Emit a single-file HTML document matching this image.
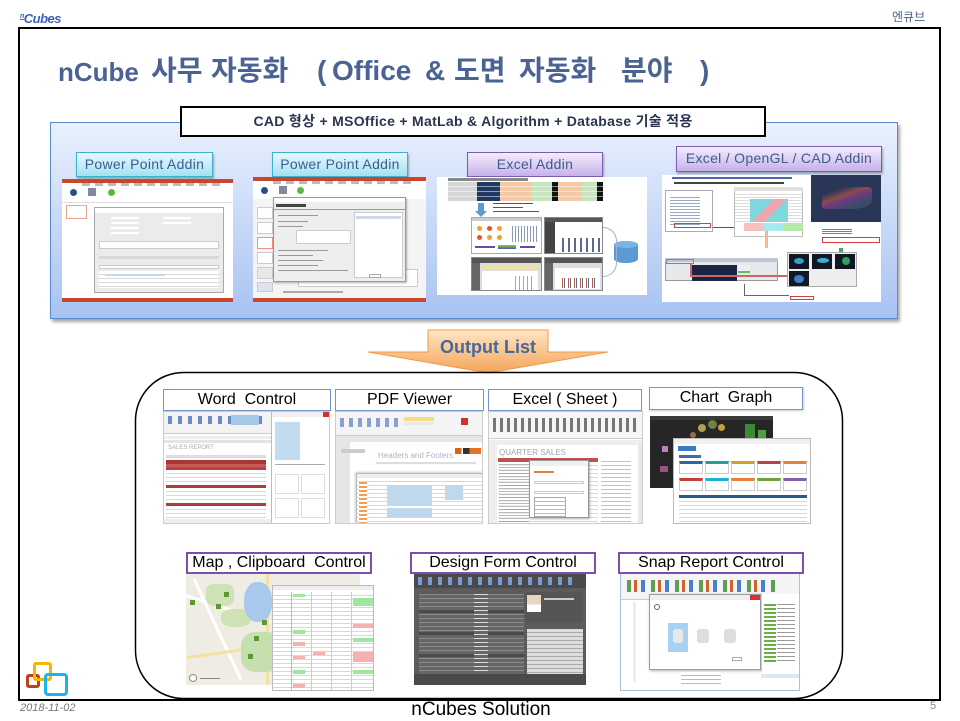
<!DOCTYPE html>
<html><head><meta charset="utf-8">
<style>
*{margin:0;padding:0;box-sizing:border-box}
body{width:960px;height:720px;background:#fff;position:relative;overflow:hidden;font-family:"Liberation Sans","Noto Sans CJK KR",sans-serif}
.a{position:absolute}
.ss{overflow:hidden}
.t{position:absolute;top:0;white-space:nowrap}
.lc{position:absolute;background:linear-gradient(#e6f9fe,#a4e2f3);border:1px solid #3cb2cc;box-shadow:1px 2px 2px rgba(0,0,0,.3);color:#3d5d8c;font-size:14px;text-align:center;line-height:23px;letter-spacing:.3px}
.lp{position:absolute;background:linear-gradient(#f3ecfd,#c7b1ea);border:1px solid #7c5cb0;box-shadow:1px 2px 2px rgba(0,0,0,.3);color:#3d5d8c;font-size:14px;text-align:center;line-height:23px;letter-spacing:.3px}
.ob{position:absolute;background:#fff;border:1.5px solid #7594cf;color:#000;font-size:16px;text-align:center;line-height:19px}
.op{position:absolute;background:#fff;border:2px solid #7b4fb0;color:#000;font-size:16px;text-align:center;line-height:18px}
.rows{background:repeating-linear-gradient(#fff 0 3px,#d8d8d8 3px 4px)}
</style></head><body>

<!-- header -->
<div class="a" style="left:20px;top:9px;font-size:13px;font-weight:bold;font-style:italic;color:#3a62b8;line-height:16px;letter-spacing:-.5px"><span style="font-size:7px;text-decoration:underline;vertical-align:5px">n</span>Cubes</div>
<div class="a" style="left:892px;top:10px;font-size:12px;color:#4d5f86;line-height:14px">엔큐브</div>

<!-- frame -->
<div class="a" style="left:18px;top:27px;width:923px;height:674px;border:2px solid #000"></div>

<!-- title -->
<div class="a" style="left:0;top:56px;width:960px;height:30px;font-size:28px;font-weight:bold;color:#4b6392;line-height:30px">
  <span class="t" style="left:58px;font-size:26px;top:1px">nCube</span>
  <span class="t" style="left:151px">사무</span>
  <span class="t" style="left:211px">자동화</span>
  <span class="t" style="left:317px">(</span>
  <span class="t" style="left:332px">Office</span>
  <span class="t" style="left:425px">&amp;</span>
  <span class="t" style="left:454px">도면</span>
  <span class="t" style="left:519px">자동화</span>
  <span class="t" style="left:621px">분야</span>
  <span class="t" style="left:700px">)</span>
</div>

<!-- blue panel -->
<div class="a" style="left:50px;top:122px;width:848px;height:197px;background:linear-gradient(#e9f0fd,#a8c3f2);border:1px solid #5a8ad0;box-shadow:2px 3px 3px rgba(0,0,0,.35)"></div>

<!-- tech box -->
<div class="a" style="left:180px;top:106px;width:586px;height:31px;background:#fff;border:2px solid #000;text-align:center;font-size:14px;font-weight:bold;color:#29344f;line-height:27px;white-space:nowrap;letter-spacing:.3px">CAD 형상 + MSOffice + MatLab &amp; Algorithm + Database 기술 적용</div>

<!-- panel labels -->
<div class="lc" style="left:76px;top:152px;width:137px;height:25px">Power Point Addin</div>
<div class="lc" style="left:272px;top:152px;width:136px;height:25px">Power Point Addin</div>
<div class="lp" style="left:467px;top:152px;width:136px;height:25px">Excel Addin</div>
<div class="lp" style="left:676px;top:146px;width:206px;height:26px">Excel / OpenGL / CAD Addin</div>

<!-- PP1 screenshot -->
<div class="a ss" style="left:62px;top:179px;width:171px;height:123px;background:#fff">
  <div class="a" style="left:0;top:0;width:171px;height:4px;background:#c8472c"></div>
  <div class="a" style="left:20px;top:4px;width:140px;height:3px;background:repeating-linear-gradient(90deg,#bbb 0 8px,#fff 8px 13px)"></div>
  <div class="a" style="left:8px;top:10px;width:7px;height:7px;border-radius:50%;background:#2b4f8a"></div>
  <div class="a" style="left:26px;top:9px;width:8px;height:8px;background:#7d8aa0"></div>
  <div class="a" style="left:46px;top:10px;width:7px;height:7px;border-radius:50%;background:#5cb83a"></div>
  <div class="a" style="left:0;top:23px;width:171px;height:1px;background:#ddd"></div>
  <div class="a" style="left:4px;top:26px;width:21px;height:14px;border:1px solid #f0a090"></div>
  <div class="a" style="left:32px;top:28px;width:130px;height:86px;background:#ebebeb;border:1px solid #a8a8a8">
    <div class="a" style="left:0;top:0;width:128px;height:5px;background:#fff"></div>
    <div class="a" style="left:16px;top:9px;width:28px;height:2px;background:#fff"></div>
    <div class="a" style="left:68px;top:9px;width:28px;height:2px;background:#fff"></div>
    <div class="a" style="left:16px;top:14px;width:28px;height:2px;background:#fff"></div>
    <div class="a" style="left:68px;top:14px;width:28px;height:2px;background:#fff"></div>
    <div class="a" style="left:16px;top:19px;width:28px;height:2px;background:#fff"></div>
    <div class="a" style="left:16px;top:24px;width:28px;height:2px;background:#fff"></div>
    <div class="a" style="left:4px;top:33px;width:120px;height:8px;background:#fff;border:1px solid #ccc"></div>
    <div class="a" style="left:4px;top:48px;width:120px;height:3px;background:#d8d8d8"></div>
    <div class="a" style="left:4px;top:57px;width:120px;height:4px;background:#fff;border:1px solid #ccc"></div>
    <div class="a rows" style="left:4px;top:63px;width:120px;height:17px"></div>
    <div class="a" style="left:10px;top:66px;width:60px;height:2px;background:#c8d8ee"></div>
  </div>
  <div class="a" style="left:0;top:119px;width:171px;height:4px;background:#c8472c"></div>
</div>

<!-- PP2 screenshot -->
<div class="a ss" style="left:253px;top:177px;width:173px;height:125px;background:#f4f4f4">
  <div class="a" style="left:0;top:0;width:173px;height:4px;background:#c8472c"></div>
  <div class="a" style="left:0;top:4px;width:173px;height:18px;background:#fff"></div>
  <div class="a" style="left:20px;top:4px;width:140px;height:3px;background:repeating-linear-gradient(90deg,#bbb 0 8px,#fff 8px 13px)"></div>
  <div class="a" style="left:8px;top:10px;width:7px;height:7px;border-radius:50%;background:#2b4f8a"></div>
  <div class="a" style="left:26px;top:9px;width:8px;height:8px;background:#7d8aa0"></div>
  <div class="a" style="left:44px;top:10px;width:7px;height:7px;border-radius:50%;background:#5cb83a"></div>
  <div class="a" style="left:4px;top:30px;width:16px;height:12px;background:#fff;border:1px solid #ccc"></div>
  <div class="a" style="left:4px;top:45px;width:16px;height:12px;background:#fff;border:1px solid #ccc"></div>
  <div class="a" style="left:4px;top:60px;width:16px;height:12px;background:#fff;border:1px solid #f09080"></div>
  <div class="a" style="left:4px;top:75px;width:16px;height:12px;background:#fff;border:1px solid #ccc"></div>
  <div class="a" style="left:4px;top:90px;width:16px;height:12px;background:#e8e8e8;border:1px solid #ccc"></div>
  <div class="a" style="left:4px;top:105px;width:16px;height:10px;background:#dde4ee;border:1px solid #ccc"></div>
  <div class="a" style="left:45px;top:92px;width:120px;height:18px;background:#fff;border:1px solid #ccc"></div>
  <div class="a" style="left:30px;top:114px;width:60px;height:2px;background:#aaa"></div>
  <div class="a" style="left:20px;top:20px;width:133px;height:85px;background:#eeeeee;border:1px solid #999;box-shadow:1px 1px 2px rgba(0,0,0,.3)">
    <div class="a" style="left:0;top:0;width:131px;height:4px;background:#fff"></div>
    <div class="a" style="left:2px;top:6px;width:30px;height:3px;background:#444"></div>
    <div class="a" style="left:0;top:11px;width:131px;height:1px;background:#999"></div>
    <div class="a" style="left:80px;top:14px;width:49px;height:66px;background:#fff;border:1px solid #ccc"></div>
    <div class="a" style="left:82px;top:18px;width:45px;height:3px;background:#cfd8e6"></div>
    <div class="a" style="left:4px;top:17px;width:40px;height:1px;background:#999"></div>
    <div class="a" style="left:4px;top:23px;width:30px;height:1px;background:#999"></div>
    <div class="a" style="left:4px;top:28px;width:25px;height:1px;background:#999"></div>
    <div class="a" style="left:22px;top:32px;width:55px;height:14px;background:#fff;border:1px solid #ccc"></div>
    <div class="a" style="left:4px;top:52px;width:50px;height:1px;background:#999"></div>
    <div class="a" style="left:4px;top:57px;width:35px;height:1px;background:#999"></div>
    <div class="a" style="left:4px;top:62px;width:45px;height:1px;background:#999"></div>
    <div class="a" style="left:4px;top:67px;width:40px;height:1px;background:#999"></div>
    <div class="a" style="left:4px;top:72px;width:70px;height:1px;background:#999"></div>
    <div class="a" style="left:95px;top:76px;width:12px;height:4px;background:#fff;border:1px solid #aaa"></div>
  </div>
  <div class="a" style="left:0;top:121px;width:173px;height:4px;background:#c8472c"></div>
</div>

<!-- Excel addin screenshot -->
<div class="a ss" style="left:437px;top:177px;width:210px;height:118px;background:#fff">
  <div class="a" style="left:11px;top:1px;width:80px;height:3px;background:#888"></div>
  <div class="a" style="left:11px;top:5px;width:155px;height:19px;background:linear-gradient(90deg,#d6d6d6 0 29px,#1f3864 29px 52px,#f6c9a4 52px 84px,#c6e6c0 84px 104px,#111 104px 110px,#f6c9a4 110px 134px,#c6e6c0 134px 149px,#111 149px 155px)"></div>
  <div class="a" style="left:11px;top:5px;width:155px;height:19px;background:repeating-linear-gradient(#0000 0 4px,rgba(255,255,255,.5) 4px 5px)"></div>
  <div class="a" style="left:41px;top:26px;width:6px;height:8px;background:#5b9bd5"></div>
  <div class="a" style="left:38px;top:34px;width:0;height:0;border-left:6px solid transparent;border-right:6px solid transparent;border-top:6px solid #5b9bd5"></div>
  <div class="a" style="left:56px;top:26px;width:40px;height:1px;background:#555"></div>
  <div class="a" style="left:56px;top:30px;width:30px;height:1px;background:#555"></div>
  <div class="a" style="left:56px;top:34px;width:46px;height:1px;background:#555"></div>
  <div class="a" style="left:34px;top:40px;width:71px;height:37px;background:#fff;border:1px solid #aaa">
    <div class="a" style="left:0;top:0;width:69px;height:3px;background:#ccc"></div>
    <div class="a" style="left:5px;top:8px;width:5px;height:5px;border-radius:50%;background:#f2a030"></div>
    <div class="a" style="left:15px;top:8px;width:5px;height:5px;border-radius:50%;background:#e8502a"></div>
    <div class="a" style="left:25px;top:8px;width:5px;height:5px;border-radius:50%;background:#f2a030"></div>
    <div class="a" style="left:5px;top:17px;width:5px;height:5px;border-radius:50%;background:#e8502a"></div>
    <div class="a" style="left:15px;top:17px;width:5px;height:5px;border-radius:50%;background:#f2a030"></div>
    <div class="a" style="left:25px;top:17px;width:5px;height:5px;border-radius:50%;background:#f2a030"></div>
    <div class="a" style="left:38px;top:8px;width:28px;height:16px;background:repeating-linear-gradient(90deg,#fff 0 2px,#8899bb 2px 3px)"></div>
    <div class="a" style="left:3px;top:28px;width:20px;height:2px;background:#6a4aa0"></div>
    <div class="a" style="left:26px;top:27px;width:18px;height:4px;background:linear-gradient(#e8a040,#60a050,#4060c0)"></div>
    <div class="a" style="left:48px;top:28px;width:15px;height:2px;background:#6a4aa0"></div>
  </div>
  <div class="a" style="left:107px;top:40px;width:59px;height:37px;background:#fff;border:1px solid #888">
    <div class="a" style="left:0;top:0;width:57px;height:4px;background:#555"></div>
    <div class="a" style="left:0;top:4px;width:10px;height:31px;background:#444"></div>
    <div class="a" style="left:13px;top:20px;width:42px;height:14px;background:repeating-linear-gradient(90deg,#fff 0 4px,#5a6a90 4px 6px)"></div>
  </div>
  <div class="a" style="left:34px;top:80px;width:71px;height:34px;background:#ddd;border:1px solid #888">
    <div class="a" style="left:0;top:0;width:69px;height:5px;background:#555"></div>
    <div class="a" style="left:0;top:5px;width:8px;height:27px;background:#666"></div>
    <div class="a" style="left:10px;top:8px;width:56px;height:3px;background:#f0e0a0"></div>
    <div class="a" style="left:10px;top:13px;width:56px;height:19px;background:#fff"></div>
    <div class="a" style="left:40px;top:18px;width:20px;height:14px;background:repeating-linear-gradient(90deg,#fff 0 3px,#9aa8c8 3px 4px)"></div>
  </div>
  <div class="a" style="left:107px;top:80px;width:59px;height:34px;background:#ddd;border:1px solid #888">
    <div class="a" style="left:0;top:0;width:57px;height:5px;background:#555"></div>
    <div class="a" style="left:0;top:5px;width:8px;height:27px;background:#666"></div>
    <div class="a" style="left:10px;top:10px;width:45px;height:21px;background:#fff"></div>
    <div class="a" style="left:14px;top:20px;width:38px;height:10px;background:repeating-linear-gradient(90deg,#fff 0 3px,#b06040 3px 4px,#fff 4px 5px,#5a6a90 5px 6px)"></div>
  </div>
  <div class="a" style="left:177px;top:64px;width:24px;height:22px;background:#5b9bd5;border-radius:12px/4px"></div>
  <div class="a" style="left:177px;top:64px;width:24px;height:7px;background:#7db3e4;border-radius:50%"></div>
  <div class="a" style="left:166px;top:50px;width:14px;height:50px;border:1px solid #9ab4d8;border-left:none;border-radius:0 20px 20px 0"></div>
</div>

<!-- CAD screenshot -->
<div class="a ss" style="left:662px;top:175px;width:219px;height:127px;background:#fff">
  <div class="a" style="left:10px;top:2px;width:120px;height:2px;background:#4a6ab0"></div>
  <div class="a" style="left:12px;top:7px;width:110px;height:2px;background:#444"></div>
  <div class="a" style="left:3px;top:15px;width:48px;height:42px;background:#fff;border:1px solid #aab"></div>
  <div class="a" style="left:8px;top:20px;width:30px;height:30px;background:repeating-linear-gradient(#fff 0 2px,#98a8c0 2px 3px)"></div>
  <div class="a" style="left:12px;top:48px;width:37px;height:5px;border:1px solid #d04040"></div>
  <div class="a" style="left:51px;top:52px;width:21px;height:1px;background:#555"></div>
  <div class="a" style="left:72px;top:12px;width:69px;height:50px;background:#fff;border:1px solid #bbb"></div>
  <div class="a" style="left:72px;top:12px;width:69px;height:4px;background:#e0e0e0"></div>
  <div class="a" style="left:73px;top:17px;width:67px;height:30px;background:repeating-linear-gradient(#fff 0 2px,#ddd 2px 3px)"></div>
  <div class="a" style="left:88px;top:24px;width:38px;height:23px;background:linear-gradient(135deg,#7fd8e0 0 40%,#f0a4ac 40% 60%,#7fd8e0 60%)"></div>
  <div class="a" style="left:82px;top:48px;width:59px;height:8px;background:linear-gradient(90deg,#f6c0c0 0 33%,#a8e8f0 33% 66%,#b8e8a8 66%)"></div>
  <div class="a" style="left:103px;top:56px;width:3px;height:17px;background:#f4b890"></div>
  <div class="a" style="left:149px;top:0;width:70px;height:47px;background:#2a3658"></div>
  <div class="a" style="left:160px;top:12px;width:50px;height:22px;background:linear-gradient(160deg,#2a3658 20%,#8a4a50 40%,#6a3a80 55%,#3a4a6a 75%);border-radius:40% 10%"></div>
  <div class="a" style="left:150px;top:50px;width:69px;height:20px;background:#fff"></div>
  <div class="a" style="left:160px;top:53px;width:30px;height:6px;background:repeating-linear-gradient(#fff 0 1px,#6a80b0 1px 2px)"></div>
  <div class="a" style="left:160px;top:62px;width:58px;height:6px;border:1px solid #d04040"></div>
  <div class="a" style="left:177px;top:73px;width:4px;height:14px;background:#3cb050"></div>
  <div class="a" style="left:3px;top:83px;width:113px;height:23px;background:#e6e8ec;border:1px solid #999"></div>
  <div class="a" style="left:3px;top:83px;width:113px;height:4px;background:#bcc6d6"></div>
  <div class="a" style="left:4px;top:84px;width:28px;height:5px;border:1px solid #5b8bd0"></div>
  <div class="a" style="left:30px;top:90px;width:45px;height:16px;background:#1c2444"></div>
  <div class="a" style="left:76px;top:90px;width:12px;height:8px;background:#f0f0f0;border-bottom:2px solid #60c060"></div>
  <div class="a" style="left:28px;top:88px;width:2px;height:14px;background:#c86868"></div>
  <div class="a" style="left:28px;top:100px;width:98px;height:2px;background:#c86868"></div>
  <div class="a" style="left:125px;top:77px;width:70px;height:35px;background:#eee;border:1px solid #aaa"></div>
  <div class="a" style="left:127px;top:79px;width:20px;height:15px;background:#101828"></div>
  <div class="a" style="left:150px;top:79px;width:20px;height:15px;background:#101828"></div>
  <div class="a" style="left:173px;top:79px;width:20px;height:15px;background:#101828"></div>
  <div class="a" style="left:127px;top:96px;width:20px;height:15px;background:#101828"></div>
  <div class="a" style="left:132px;top:83px;width:10px;height:6px;background:#3aa0c0;border-radius:50%"></div>
  <div class="a" style="left:155px;top:83px;width:12px;height:5px;background:#3ab0d0;border-radius:50%"></div>
  <div class="a" style="left:180px;top:82px;width:8px;height:8px;background:#30a060;border-radius:50%"></div>
  <div class="a" style="left:132px;top:100px;width:10px;height:8px;background:#3a80c0;border-radius:50%"></div>
  <div class="a" style="left:82px;top:109px;width:1px;height:12px;background:#666"></div>
  <div class="a" style="left:82px;top:120px;width:45px;height:1px;background:#666"></div>
  <div class="a" style="left:128px;top:121px;width:24px;height:4px;border:1px solid #d04040"></div>
</div>

<!-- Output list arrow + rounded container -->
<svg class="a" style="left:0;top:0" width="960" height="720">
  <defs>
    <linearGradient id="og" x1="0" y1="0" x2="0" y2="1">
      <stop offset="0" stop-color="#fee6c6"/>
      <stop offset="1" stop-color="#f4a458"/>
    </linearGradient>
  </defs>
  <polygon points="428,330 548,330 548,352 608,352 488,373 368,352 428,352" fill="url(#og)" stroke="#f09a48" stroke-width="1"/>
  <text x="488" y="353" text-anchor="middle" font-family="Liberation Sans, sans-serif" font-size="18" font-weight="bold" fill="#46679a">Output List</text>
  <rect x="135.5" y="372.5" width="707" height="326" rx="48" ry="48" fill="none" stroke="#000" stroke-width="1.5"/>
</svg>

<!-- Row 1 screenshots -->
<!-- Word -->
<div class="a ss" style="left:163px;top:411px;width:167px;height:113px;background:#fff;border:1px solid #ccc">
  <div class="a" style="left:0;top:0;width:107px;height:21px;background:#f3f3f3"></div>
  <div class="a" style="left:4px;top:4px;width:100px;height:8px;background:repeating-linear-gradient(90deg,#6a8ac8 0 4px,#f3f3f3 4px 10px)"></div>
  <div class="a" style="left:67px;top:3px;width:28px;height:10px;background:#a8c8e8"></div>
  <div class="a" style="left:0;top:21px;width:107px;height:1px;background:#ccc"></div>
  <div class="a" style="left:0;top:24px;width:107px;height:3px;background:#eee"></div>
  <div class="a" style="left:0;top:28px;width:107px;height:3px;background:#e4e4e4"></div>
  <div class="a" style="left:4px;top:33px;font-size:6px;color:#aaa;line-height:7px;white-space:nowrap">SALES REPORT</div>
  <div class="a" style="left:2px;top:43px;width:100px;height:3px;background:#ddd"></div>
  <div class="a" style="left:2px;top:48px;width:100px;height:4px;background:#a83634"></div>
  <div class="a" style="left:2px;top:52px;width:100px;height:3px;background:#c55a56"></div>
  <div class="a" style="left:2px;top:55px;width:100px;height:3px;background:#c04040"></div>
  <div class="a rows" style="left:2px;top:58px;width:100px;height:15px"></div>
  <div class="a" style="left:2px;top:73px;width:100px;height:3px;background:#b03a38"></div>
  <div class="a rows" style="left:2px;top:76px;width:100px;height:15px"></div>
  <div class="a" style="left:2px;top:91px;width:100px;height:3px;background:#b03a38"></div>
  <div class="a rows" style="left:2px;top:94px;width:100px;height:12px"></div>
  <div class="a" style="left:0;top:107px;width:107px;height:5px;background:#eee"></div>
  <div class="a" style="left:107px;top:0;width:58px;height:111px;background:#fff;border-left:1px solid #bbb"></div>
  <div class="a" style="left:108px;top:0;width:57px;height:5px;background:#f0f0f0"></div>
  <div class="a" style="left:159px;top:0;width:6px;height:5px;background:#d83030"></div>
  <div class="a" style="left:111px;top:10px;width:25px;height:38px;background:#c3dbef"></div>
  <div class="a" style="left:111px;top:52px;width:50px;height:1px;background:#aaa"></div>
  <div class="a" style="left:111px;top:62px;width:24px;height:20px;border:1px solid #ddd"></div>
  <div class="a" style="left:137px;top:62px;width:24px;height:20px;border:1px solid #ddd"></div>
  <div class="a" style="left:111px;top:86px;width:24px;height:20px;border:1px solid #ddd"></div>
  <div class="a" style="left:137px;top:86px;width:24px;height:20px;border:1px solid #ddd"></div>
</div>

<!-- PDF -->
<div class="a ss" style="left:335px;top:411px;width:148px;height:113px;background:#e6e6e6;border:1px solid #ccc">
  <div class="a" style="left:0;top:0;width:148px;height:24px;background:#f4f4f4;border-bottom:1px solid #ccc"></div>
  <div class="a" style="left:4px;top:6px;width:60px;height:9px;background:repeating-linear-gradient(90deg,#8aa0c8 0 4px,#f4f4f4 4px 9px)"></div>
  <div class="a" style="left:68px;top:5px;width:30px;height:4px;background:#f6dc84"></div>
  <div class="a" style="left:68px;top:10px;width:30px;height:3px;background:#e8e8e8"></div>
  <div class="a" style="left:125px;top:6px;width:7px;height:7px;background:#d03030"></div>
  <div class="a" style="left:14px;top:30px;width:134px;height:83px;background:#fff"></div>
  <div class="a" style="left:5px;top:37px;width:24px;height:4px;background:#ccc"></div>
  <div class="a" style="left:42px;top:39px;font-size:8px;color:#aab6c8;line-height:9px;white-space:nowrap">Headers and Footers</div>
  <div class="a" style="left:119px;top:36px;width:26px;height:6px;background:linear-gradient(90deg,#e06010 0 25%,#fff 25% 30%,#333 30% 55%,#e87020 55%)"></div>
  <div class="a" style="left:40px;top:50px;width:100px;height:2px;background:#ddd"></div>
  <div class="a" style="left:20px;top:61px;width:128px;height:52px;background:#fff;border:1px solid #bbb;box-shadow:-1px -1px 2px rgba(0,0,0,.2)">
    <div class="a" style="left:0;top:0;width:128px;height:4px;background:#eee"></div>
    <div class="a rows" style="left:0;top:4px;width:128px;height:48px"></div>
    <div class="a" style="left:30px;top:11px;width:45px;height:20px;background:#c0d8ee"></div>
    <div class="a" style="left:88px;top:11px;width:18px;height:15px;background:#c0d8ee"></div>
    <div class="a" style="left:30px;top:34px;width:45px;height:9px;background:#c0d8ee"></div>
    <div class="a" style="left:2px;top:8px;width:8px;height:42px;background:repeating-linear-gradient(#f0a050 0 2px,#fff 2px 4px)"></div>
  </div>
</div>

<!-- Excel sheet -->
<div class="a ss" style="left:488px;top:411px;width:155px;height:113px;background:#fff;border:1px solid #ccc">
  <div class="a" style="left:0;top:0;width:155px;height:27px;background:#f6f6f6;border-bottom:1px solid #ccc"></div>
  <div class="a" style="left:4px;top:6px;width:145px;height:14px;background:repeating-linear-gradient(90deg,#777 0 3px,#f6f6f6 3px 7px)"></div>
  <div class="a" style="left:0;top:28px;width:155px;height:5px;background:#eee"></div>
  <div class="a" style="left:0;top:33px;width:8px;height:80px;background:#eee"></div>
  <div class="a" style="left:10px;top:36px;font-size:8px;color:#9aa;line-height:9px;white-space:nowrap">QUARTER SALES</div>
  <div class="a" style="left:9px;top:46px;width:100px;height:4px;background:#c0504d"></div>
  <div class="a rows" style="left:9px;top:50px;width:100px;height:62px"></div>
  <div class="a" style="left:10px;top:50px;width:30px;height:60px;background:repeating-linear-gradient(#fff 0 2px,#777 2px 3px);opacity:.5"></div>
  <div class="a" style="left:112px;top:46px;width:30px;height:64px;background:repeating-linear-gradient(#fff 0 3px,#888 3px 4px);opacity:.5"></div>
  <div class="a" style="left:40px;top:48px;width:60px;height:58px;background:#fff;border:1px solid #999;box-shadow:1px 1px 2px rgba(0,0,0,.3)">
    <div class="a" style="left:0;top:0;width:58px;height:5px;background:#f0f0f0"></div>
    <div class="a" style="left:4px;top:10px;width:20px;height:2px;background:#e08040"></div>
    <div class="a" style="left:4px;top:20px;width:50px;height:3px;border:1px solid #ccc"></div>
    <div class="a" style="left:4px;top:30px;width:50px;height:3px;border:1px solid #ccc"></div>
    <div class="a" style="left:4px;top:36px;width:32px;height:20px;background:repeating-linear-gradient(#fff 0 3px,#bbb 3px 4px);border:1px solid #aaa"></div>
  </div>
  <div class="a" style="left:149px;top:33px;width:5px;height:80px;background:#e8e8e8"></div>
</div>

<!-- Chart -->
<div class="a ss" style="left:650px;top:416px;width:123px;height:72px;background:#262626">
  <div class="a" style="left:0;top:0;width:123px;height:4px;background:#3a3a3a"></div>
  <div class="a" style="left:48px;top:8px;width:8px;height:8px;border-radius:50%;background:#b0a050"></div>
  <div class="a" style="left:58px;top:4px;width:9px;height:9px;border-radius:50%;background:#708048"></div>
  <div class="a" style="left:68px;top:8px;width:7px;height:7px;border-radius:50%;background:#c0a040"></div>
  <div class="a" style="left:40px;top:16px;width:6px;height:6px;border-radius:50%;background:#907050"></div>
  <div class="a" style="left:95px;top:8px;width:10px;height:14px;background:#3a8a3a"></div>
  <div class="a" style="left:108px;top:14px;width:8px;height:10px;background:#50a040"></div>
  <div class="a" style="left:12px;top:30px;width:6px;height:6px;background:#c080c0"></div>
  <div class="a" style="left:10px;top:50px;width:8px;height:6px;background:#a05080"></div>
</div>
<div class="a ss" style="left:673px;top:438px;width:138px;height:86px;background:#fff;border:1px solid #bbb">
  <div class="a" style="left:0;top:0;width:138px;height:5px;background:#f0f0f0"></div>
  <div class="a" style="left:4px;top:7px;width:18px;height:5px;background:#3a7ac8"></div>
  <div class="a" style="left:5px;top:16px;width:22px;height:3px;background:#3a6ab8"></div>
  <div class="a" style="left:5px;top:22px;width:24px;height:13px;background:#fff;border:1px solid #ccc;border-top:3px solid #2a6a9a"></div>
  <div class="a" style="left:31px;top:22px;width:24px;height:13px;background:#fff;border:1px solid #ccc;border-top:3px solid #20a0a0"></div>
  <div class="a" style="left:57px;top:22px;width:24px;height:13px;background:#fff;border:1px solid #ccc;border-top:3px solid #d0a030"></div>
  <div class="a" style="left:83px;top:22px;width:24px;height:13px;background:#fff;border:1px solid #ccc;border-top:3px solid #c04040"></div>
  <div class="a" style="left:109px;top:22px;width:24px;height:13px;background:#fff;border:1px solid #ccc;border-top:3px solid #e88030"></div>
  <div class="a" style="left:5px;top:39px;width:24px;height:13px;background:#fff;border:1px solid #ccc;border-top:3px solid #c04040"></div>
  <div class="a" style="left:31px;top:39px;width:24px;height:13px;background:#fff;border:1px solid #ccc;border-top:3px solid #20b0d0"></div>
  <div class="a" style="left:57px;top:39px;width:24px;height:13px;background:#fff;border:1px solid #ccc;border-top:3px solid #e88030"></div>
  <div class="a" style="left:83px;top:39px;width:24px;height:13px;background:#fff;border:1px solid #ccc;border-top:3px solid #70a040"></div>
  <div class="a" style="left:109px;top:39px;width:24px;height:13px;background:#fff;border:1px solid #ccc;border-top:3px solid #8060a8"></div>
  <div class="a" style="left:5px;top:56px;width:128px;height:3px;background:#2a5a8a"></div>
  <div class="a rows" style="left:5px;top:59px;width:128px;height:26px"></div>
</div>

<!-- Row 1 labels -->
<div class="ob" style="left:163px;top:389px;width:168px;height:22px">Word&nbsp; Control</div>
<div class="ob" style="left:335px;top:389px;width:149px;height:22px">PDF Viewer</div>
<div class="ob" style="left:488px;top:389px;width:154px;height:22px">Excel ( Sheet )</div>
<div class="ob" style="left:649px;top:387px;width:154px;height:23px;box-shadow:1px 1px 2px rgba(0,0,0,.2)">Chart&nbsp; Graph</div>

<!-- Row 2 screenshots -->
<!-- Map -->
<div class="a ss" style="left:186px;top:574px;width:174px;height:111px;background:#efece4">
  <div class="a" style="left:0;top:20px;width:90px;height:3px;background:#fff;transform:rotate(18deg);transform-origin:0 0"></div>
  <div class="a" style="left:30px;top:0;width:3px;height:111px;background:#fff;transform:rotate(-25deg)"></div>
  <div class="a" style="left:80px;top:0;width:3px;height:111px;background:#f4e0a0"></div>
  <div class="a" style="left:0;top:70px;width:174px;height:3px;background:#f4e0a0;transform:rotate(-8deg)"></div>
  <div class="a" style="left:20px;top:10px;width:28px;height:22px;background:#cfe2b6;border-radius:30%"></div>
  <div class="a" style="left:35px;top:35px;width:30px;height:18px;background:#cfe2b6;border-radius:40%"></div>
  <div class="a" style="left:55px;top:58px;width:40px;height:40px;background:#c6dfae;border-radius:35%"></div>
  <div class="a" style="left:58px;top:8px;width:28px;height:40px;background:#a9c9ec;border-radius:45%"></div>
  <div class="a" style="left:4px;top:26px;width:5px;height:5px;background:#5a9a30"></div>
  <div class="a" style="left:30px;top:30px;width:5px;height:5px;background:#5a9a30"></div>
  <div class="a" style="left:68px;top:62px;width:5px;height:5px;background:#5a9a30"></div>
  <div class="a" style="left:38px;top:18px;width:5px;height:5px;background:#5a9a30"></div>
  <div class="a" style="left:62px;top:80px;width:5px;height:5px;background:#5a9a30"></div>
  <div class="a" style="left:76px;top:46px;width:5px;height:5px;background:#5a9a30"></div>
  <div class="a" style="left:3px;top:100px;width:8px;height:8px;border-radius:50%;border:1px solid #888;background:#fff"></div>
  <div class="a" style="left:14px;top:104px;width:20px;height:1px;background:#888"></div>
</div>
<div class="a ss" style="left:272px;top:585px;width:102px;height:106px;background:#fff;border:1px solid #bbb">
  <div class="a" style="left:0;top:0;width:102px;height:4px;background:#eee"></div>
  <div class="a rows" style="left:0;top:6px;width:102px;height:100px"></div>
  <div class="a" style="left:18px;top:6px;width:1px;height:100px;background:#bbb;box-shadow:20px 0 #ccc,40px 0 #ccc,60px 0 #ccc"></div>
  <div class="a" style="left:20px;top:8px;width:12px;height:3px;background:#9ee89e"></div>
  <div class="a" style="left:80px;top:12px;width:20px;height:8px;background:#9ee89e"></div>
  <div class="a" style="left:20px;top:44px;width:12px;height:4px;background:#9ee89e"></div>
  <div class="a" style="left:80px;top:38px;width:20px;height:4px;background:#f6b0b0"></div>
  <div class="a" style="left:20px;top:56px;width:12px;height:4px;background:#f6b0b0"></div>
  <div class="a" style="left:80px;top:52px;width:20px;height:4px;background:#9ee89e"></div>
  <div class="a" style="left:20px;top:70px;width:12px;height:3px;background:#f6b0b0"></div>
  <div class="a" style="left:40px;top:66px;width:12px;height:3px;background:#f6b0b0"></div>
  <div class="a" style="left:80px;top:66px;width:20px;height:10px;background:#f6b0b0"></div>
  <div class="a" style="left:20px;top:84px;width:12px;height:4px;background:#9ee89e"></div>
  <div class="a" style="left:80px;top:84px;width:20px;height:4px;background:#9ee89e"></div>
  <div class="a" style="left:20px;top:98px;width:12px;height:4px;background:#f6b0b0"></div>
</div>

<!-- Design form -->
<div class="a ss" style="left:414px;top:574px;width:172px;height:111px;background:#5b5b5b">
  <div class="a" style="left:0;top:0;width:172px;height:14px;background:#4a4a4a"></div>
  <div class="a" style="left:4px;top:3px;width:160px;height:8px;background:repeating-linear-gradient(90deg,#7a9ad0 0 4px,#4a4a4a 4px 10px)"></div>
  <div class="a" style="left:5px;top:20px;width:105px;height:80px;background:repeating-linear-gradient(#8a8a8a 0 1px,#666 1px 4px)"></div>
  <div class="a" style="left:5px;top:36px;width:105px;height:3px;background:#4a4a4a"></div>
  <div class="a" style="left:5px;top:58px;width:105px;height:3px;background:#4a4a4a"></div>
  <div class="a" style="left:5px;top:80px;width:105px;height:3px;background:#4a4a4a"></div>
  <div class="a" style="left:60px;top:20px;width:14px;height:80px;background:repeating-linear-gradient(#ddd 0 1px,#666 1px 4px)"></div>
  <div class="a" style="left:112px;top:18px;width:56px;height:30px;background:#555"></div>
  <div class="a" style="left:113px;top:21px;width:14px;height:17px;background:linear-gradient(#e8d4c0 0 55%,#fff 55%)"></div>
  <div class="a" style="left:130px;top:24px;width:30px;height:2px;background:#ccc"></div>
  <div class="a" style="left:113px;top:55px;width:56px;height:46px;background:repeating-linear-gradient(#dcdcdc 0 3px,#aaa 3px 4px)"></div>
  <div class="a" style="left:0;top:100px;width:172px;height:11px;background:#4a4a4a"></div>
</div>

<!-- Snap report -->
<div class="a ss" style="left:620px;top:569px;width:180px;height:122px;background:#fff;border:1px solid #a8c0dc">
  <div class="a" style="left:0;top:0;width:180px;height:30px;background:#f4f4f4;border-bottom:1px solid #ccc"></div>
  <div class="a" style="left:6px;top:10px;width:150px;height:12px;background:repeating-linear-gradient(90deg,#5aa050 0 4px,#f4f4f4 4px 7px,#d06030 7px 10px,#f4f4f4 10px 14px,#4a80c8 14px 18px,#f4f4f4 18px 24px)"></div>
  <div class="a" style="left:12px;top:32px;width:3px;height:80px;background:#eee"></div>
  <div class="a" style="left:28px;top:24px;width:112px;height:76px;background:#fff;border:1px solid #99a;box-shadow:1px 1px 3px rgba(0,0,0,.3)">
    <div class="a" style="left:0;top:0;width:110px;height:5px;background:#eee"></div>
    <div class="a" style="left:100px;top:0;width:10px;height:5px;background:#d83030"></div>
    <div class="a" style="left:4px;top:9px;width:6px;height:6px;border-radius:50%;border:1px solid #666"></div>
    <div class="a" style="left:18px;top:28px;width:20px;height:29px;background:#a8d0f0"></div>
    <div class="a" style="left:23px;top:34px;width:10px;height:14px;background:#e8e8e8;border-radius:3px"></div>
    <div class="a" style="left:47px;top:34px;width:12px;height:14px;background:#ddd;border-radius:3px"></div>
    <div class="a" style="left:74px;top:34px;width:12px;height:14px;background:#ddd;border-radius:3px"></div>
    <div class="a" style="left:82px;top:62px;width:10px;height:4px;border:1px solid #aaa"></div>
  </div>
  <div class="a" style="left:140px;top:24px;width:39px;height:78px;background:#fff;border-left:1px solid #ccc"></div>
  <div class="a" style="left:143px;top:34px;width:12px;height:60px;background:repeating-linear-gradient(#6ab040 0 2px,#fff 2px 4px)"></div>
  <div class="a" style="left:156px;top:34px;width:18px;height:60px;background:repeating-linear-gradient(#999 0 1px,#fff 1px 4px)"></div>
  <div class="a" style="left:140px;top:104px;width:39px;height:4px;background:#dce8f4"></div>
  <div class="a" style="left:60px;top:102px;width:40px;height:14px;background:repeating-linear-gradient(#fff 0 3px,#bbb 3px 4px)"></div>
</div>

<!-- Row 2 labels -->
<div class="op" style="left:186px;top:552px;width:186px;height:22px">Map , Clipboard&nbsp; Control</div>
<div class="op" style="left:410px;top:552px;width:186px;height:22px">Design Form Control</div>
<div class="op" style="left:618px;top:552px;width:186px;height:22px">Snap Report Control</div>

<!-- logo -->
<div class="a" style="left:26px;top:674px;width:14px;height:14px;border:3px solid #c0401a;border-radius:3px"></div>
<div class="a" style="left:33px;top:662px;width:19px;height:19px;border:3px solid #f7b500;border-radius:3px"></div>
<div class="a" style="left:44px;top:673px;width:24px;height:23px;border:3px solid #18b4f0;border-radius:4px"></div>

<!-- footer -->
<div class="a" style="left:20px;top:702px;font-size:11px;font-style:italic;color:#777;line-height:13px">2018-11-02</div>
<div class="a" style="left:0;top:699px;width:962px;text-align:center;font-size:19px;color:#000;line-height:22px">nCubes Solution</div>
<div class="a" style="left:930px;top:700px;font-size:11px;color:#888;line-height:13px">5</div>

</body></html>
